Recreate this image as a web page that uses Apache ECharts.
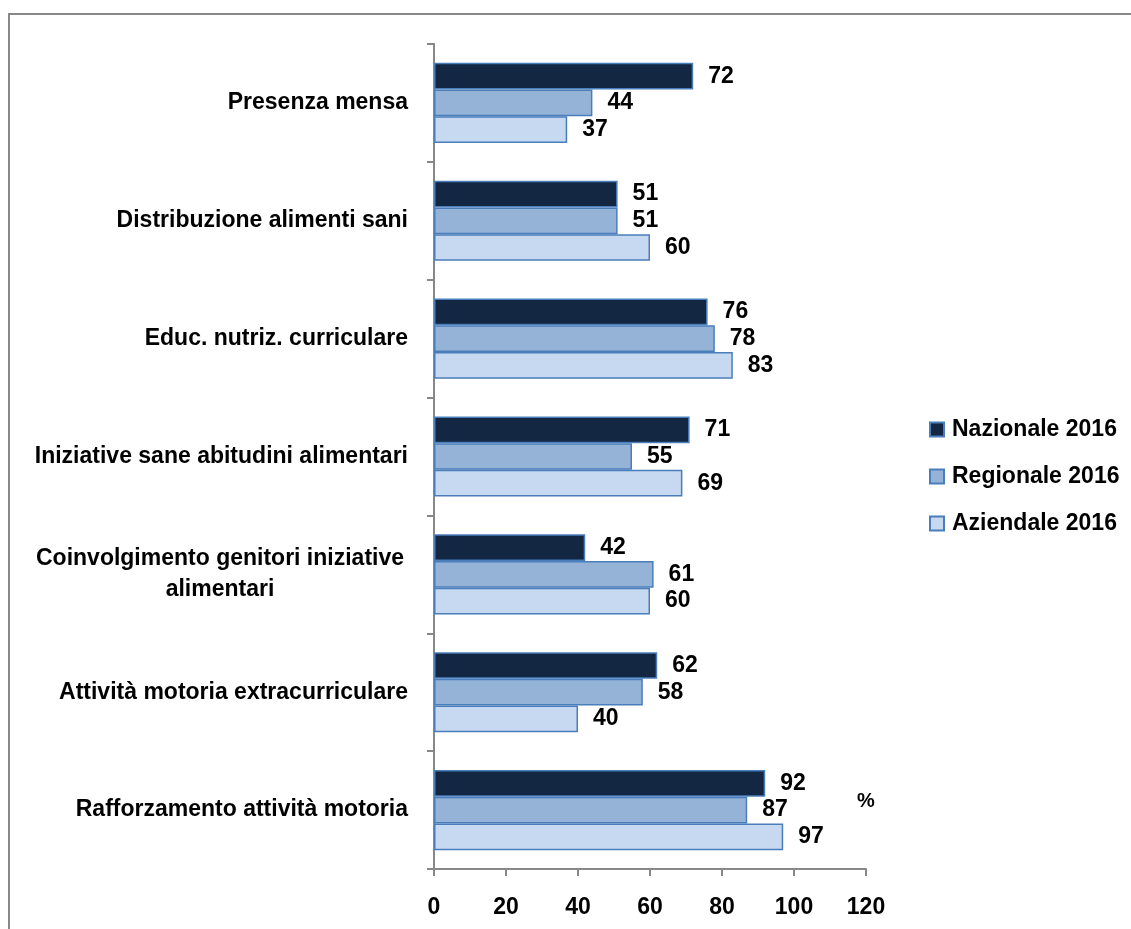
<!DOCTYPE html>
<html>
<head>
<meta charset="utf-8">
<script src="https://cdn.jsdelivr.net/npm/echarts@6/dist/echarts.min.js"></script>
<style>
  html, body { margin: 0; padding: 0; background: #fff; }
  #chart { width: 1131px; height: 929px; }
</style>
</head>
<body>
<div id="chart"></div>
<script>
var categories = [
  'Presenza mensa',
  'Distribuzione alimenti sani',
  'Educ. nutriz. curriculare',
  'Iniziative sane abitudini alimentari',
  'Coinvolgimento genitori iniziative\nalimentari',
  'Attività motoria extracurriculare',
  'Rafforzamento attività motoria'
];
var nazionale = [72, 51, 76, 71, 42, 62, 92];
var regionale = [44, 51, 78, 55, 61, 58, 87];
var aziendale = [37, 60, 83, 69, 60, 40, 97];
var xTicks = [0, 20, 40, 60, 80, 100, 120];

var font = '"Liberation Sans", Arial, sans-serif';
var chart = echarts.init(document.getElementById('chart'));

function barSeries(name, data, fill) {
  return {
    name: name,
    type: 'bar',
    data: data,
    barGap: '0%',
    barCategoryGap: '32%',
    itemStyle: { color: fill, borderColor: '#4a7ebb', borderWidth: 1.5 },
    label: {
      show: true,
      position: 'right',
      distance: 15,
      color: '#000',
      fontWeight: 'bold',
      fontSize: 23,
      fontFamily: font
    }
  };
}

chart.setOption({
  animation: false,
  grid: { left: 434, top: 44, right: 265, bottom: 60 },
  legend: {
    orient: 'vertical',
    left: 924,
    top: 413,
    itemWidth: 14,
    itemHeight: 14,
    itemGap: 24,
    icon: 'rect',
    textStyle: { fontSize: 23, fontWeight: 'bold', color: '#000', fontFamily: font, padding: [0, 0, 0, 3] },
    data: ['Nazionale 2016', 'Regionale 2016', 'Aziendale 2016']
  },
  xAxis: {
    type: 'value',
    min: 0,
    max: 120,
    interval: 20,
    axisLine: { show: true, lineStyle: { color: '#888', width: 2 } },
    axisTick: { show: true, length: 7, lineStyle: { color: '#888', width: 2 } },
    splitLine: { show: false },
    axisLabel: {
      margin: 27,
      color: '#000',
      fontWeight: 'bold',
      fontSize: 23,
      fontFamily: font,
      formatter: function (v) { return xTicks.indexOf(v) >= 0 ? String(v) : ''; }
    }
  },
  yAxis: {
    type: 'category',
    inverse: true,
    data: categories,
    axisLine: { show: true, lineStyle: { color: '#888', width: 2 } },
    axisTick: { show: true, length: 7, lineStyle: { color: '#888', width: 2 } },
    axisLabel: {
      margin: 26,
      color: '#000',
      fontWeight: 'bold',
      fontSize: 23,
      fontFamily: font,
      lineHeight: 31,
      formatter: function (v) {
        return v.indexOf('\n') >= 0 ? '{c|' + v.split('\n').join('}\n{c|') + '}' : v;
      },
      rich: {
        c: { width: 376, align: 'center', fontWeight: 'bold', fontSize: 23, fontFamily: font, color: '#000', lineHeight: 31 }
      }
    }
  },
  graphic: [
    {
      type: 'rect',
      shape: { x: 9, y: 14, width: 1140, height: 940 },
      style: { fill: 'none', stroke: '#888', lineWidth: 2 },
      silent: true
    },
    {
      type: 'text',
      left: 857,
      top: 791,
      style: { text: '%', fontSize: 20, fontWeight: 'bold', fill: '#000', fontFamily: font }
    }
  ],
  series: [
    barSeries('Nazionale 2016', nazionale, '#132642'),
    barSeries('Regionale 2016', regionale, '#95b3d7'),
    barSeries('Aziendale 2016', aziendale, '#c6d9f1')
  ]
});
</script>
</body>
</html>
